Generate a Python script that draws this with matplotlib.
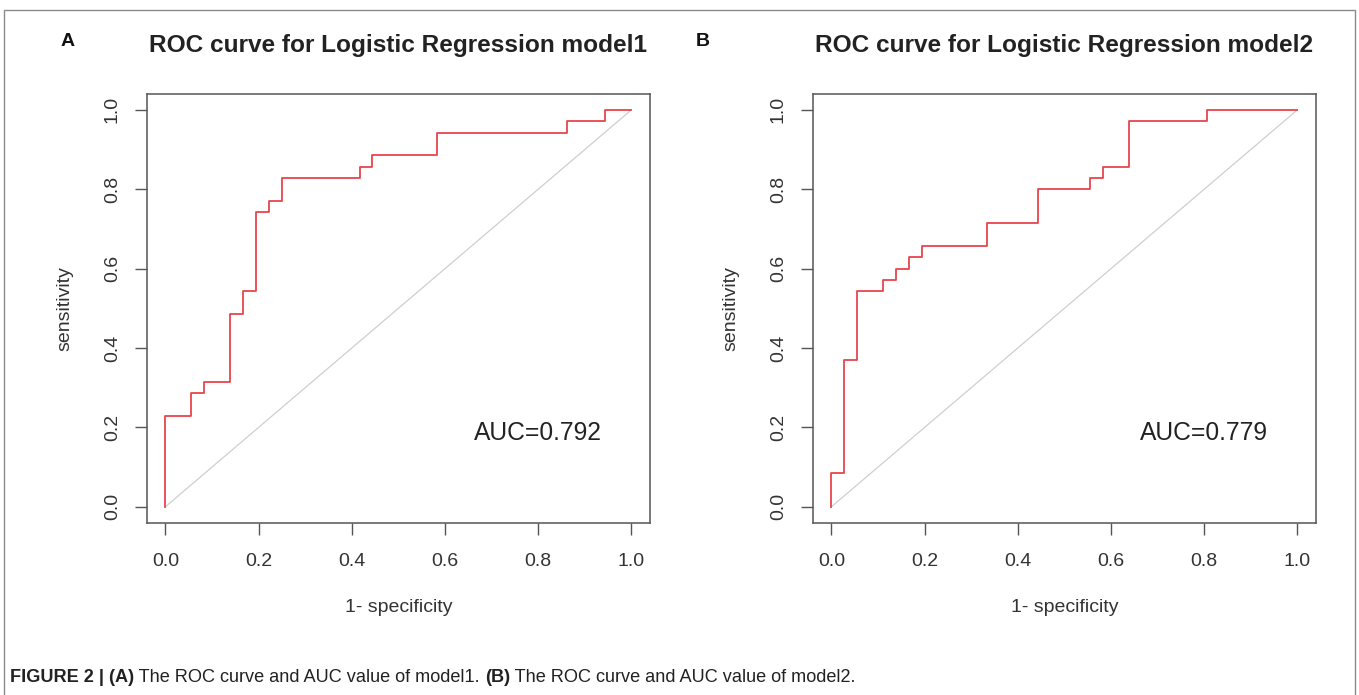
import matplotlib
matplotlib.use("Agg")
import matplotlib.pyplot as plt
from matplotlib.patches import Rectangle

plt.rcParams['font.family'] = ['Liberation Sans', 'DejaVu Sans']

# ROC curve corner points
fpr_model1 = [0, 0, 0.056, 0.056, 0.083, 0.083, 0.139, 0.139, 0.167, 0.167, 0.194, 0.194,
              0.222, 0.222, 0.25, 0.25, 0.417, 0.417, 0.444, 0.444, 0.583, 0.583,
              0.861, 0.861, 0.944, 0.944, 1.0]
tpr_model1 = [0, 0.229, 0.229, 0.286, 0.286, 0.314, 0.314, 0.486, 0.486, 0.543, 0.543, 0.743,
              0.743, 0.771, 0.771, 0.829, 0.829, 0.857, 0.857, 0.886, 0.886, 0.943,
              0.943, 0.971, 0.971, 1.0, 1.0]
fpr_model2 = [0, 0, 0.028, 0.028, 0.056, 0.056, 0.111, 0.111, 0.139, 0.139, 0.167, 0.167,
              0.194, 0.194, 0.333, 0.333, 0.444, 0.444, 0.556, 0.556, 0.583, 0.583,
              0.639, 0.639, 0.806, 0.806, 1.0]
tpr_model2 = [0, 0.086, 0.086, 0.371, 0.371, 0.543, 0.543, 0.571, 0.571, 0.6, 0.6, 0.629,
              0.629, 0.657, 0.657, 0.714, 0.714, 0.8, 0.8, 0.829, 0.829, 0.857,
              0.857, 0.971, 0.971, 1.0, 1.0]
auc_values = [0.792, 0.779]
titles = ["ROC curve for Logistic Regression model1", "ROC curve for Logistic Regression model2"]
panel_letters = ["A", "B"]
ticks = [0.0, 0.2, 0.4, 0.6, 0.8, 1.0]
tick_labels = ["0.0", "0.2", "0.4", "0.6", "0.8", "1.0"]

W, H = 1359, 695
fig = plt.figure(figsize=(W / 100, H / 100), dpi=100)

axis_col = '#555555'
text_col = '#333333'
red = '#e8444c'

lefts = [146.7, 812.7]
letter_x = [68, 703]
curves = [(fpr_model1, tpr_model1), (fpr_model2, tpr_model2)]
for i in range(2):
    l = lefts[i] / W
    w = 503.3 / W
    b = 1 - 522.7 / H
    h = (522.7 - 94) / H
    ax = fig.add_axes([l, b, w, h])
    ax.set_xlim(-0.04, 1.04)
    ax.set_ylim(-0.04, 1.04)
    ax.plot([0, 1], [0, 1], color='#cfcfcf', lw=0.9, zorder=1)
    fx, ty = curves[i]
    ax.plot(fx, ty, color=red, lw=1.3, zorder=2)
    ax.set_xticks(ticks)
    ax.set_xticklabels(tick_labels)
    ax.set_yticks(ticks)
    ax.set_yticklabels(tick_labels, rotation=90, va='center')
    ax.tick_params(direction='out', length=8.6, width=1.0, color=axis_col,
                   labelsize=14, labelcolor=text_col)
    ax.tick_params(axis='x', pad=13)
    ax.tick_params(axis='y', pad=10)
    for s in ax.spines.values():
        s.set_color(axis_col)
        s.set_linewidth(1.1)
    ax.text(0.5, -0.197, "1- specificity", transform=ax.transAxes, ha='center', va='center',
            fontsize=14, color=text_col)
    ax.text(-0.162, 0.5, "sensitivity", transform=ax.transAxes, ha='center', va='center',
            rotation=90, fontsize=14, color=text_col)
    ax.text(0.5, 1.112, titles[i], transform=ax.transAxes, ha='center', va='center',
            fontsize=17.6, fontweight='bold', color='#222222')
    ax.text(0.80, 0.187, "AUC=%.3f" % auc_values[i], ha='center', va='center',
            fontsize=17.7, color='#222222')
    fig.text(letter_x[i] / W, 1 - 42 / H, panel_letters[i], ha='center', va='center',
             fontsize=14, fontweight='bold', color='#111111')

# outer frame
fig.patches.append(Rectangle((4 / W, -0.01), (1355 - 4) / W, 1 - 10 / H + 0.01,
                             transform=fig.transFigure, fill=False, edgecolor='#8a8a8a',
                             lw=1.0))

# caption with mixed weights
pieces = [("FIGURE 2 | (A)", 'bold'), (" The ROC curve and AUC value of model1. ", 'normal'),
          ("(B)", 'bold'), (" The ROC curve and AUC value of model2.", 'normal')]
renderer = fig.canvas.get_renderer()
x = 10 / W
y = 1 - 678 / H
for txt, wt in pieces:
    t = fig.text(x, y, txt, ha='left', va='center', fontsize=13.1, fontweight=wt, color='#222222')
    bb = t.get_window_extent(renderer=renderer)
    x += bb.width / W

fig.savefig("out.png", dpi=100)
